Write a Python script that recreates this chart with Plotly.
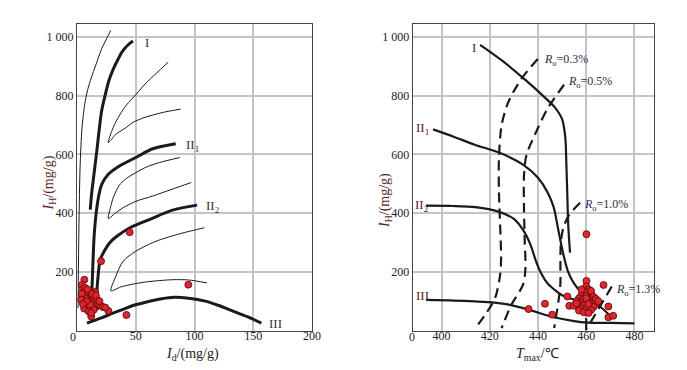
import plotly.graph_objects as go

W, H = 687, 370

# ---------------- Left chart data: Id vs IH ----------------
thin1_x = [0.8, 1.4, 2.5, 4.2, 6.5, 9.0, 12.0, 16.0, 21.0, 28.7]
thin1_y = [76, 300, 550, 690, 770, 820, 860, 905, 960, 1022]

curveI_x = [11.2, 12.5, 14.0, 16.8, 19.0, 21.0, 23.8, 27.0, 30.8, 35.0, 39.2, 44.0, 47.6]
curveI_y = [412, 470, 520, 612, 690, 750, 800, 850, 890, 925, 954, 975, 986]

curveII1_x = [12.6, 13.5, 14.6, 16.8, 19.0, 21.0, 26.6, 36.4, 50.4, 64.4, 84.0]
curveII1_y = [133, 230, 327, 418, 470, 498, 532, 561, 590, 619, 636]

curveII2_x = [16.8, 18.0, 19.6, 23.8, 28.0, 33.6, 45.0, 61.6, 81.2, 102.2]
curveII2_y = [133, 190, 240, 275, 300, 320, 350, 378, 410, 427]

curveIII_x = [8.4, 20, 30, 39.2, 47.6, 60, 72, 82.6, 95, 109.2, 120, 131.7, 145, 156.9]
curveIII_y = [25, 42, 58, 72, 85, 98, 108, 113, 110, 100, 86, 68, 47, 25]

thinA_x = [77.6, 67.2, 58.0, 50.4, 42.0, 36.4, 30.8, 26.6, 33.0, 42.0, 47.6, 57.0, 67.2, 75.6, 88.2]
thinA_y = [914, 875, 840, 805, 768, 735, 692, 640, 668, 692, 709, 725, 737, 745, 754]

thinB_x = [87.4, 70.0, 58.0, 47.6, 42.0, 36.0, 31.0, 28.5, 26.6, 32.0, 39.2, 50.0, 64.4, 80.0, 97.2]
thinB_y = [589, 572, 555, 532, 518, 495, 455, 420, 381, 398, 418, 440, 458, 480, 504]

thinC_x = [108.4, 88.0, 67.2, 50.0, 39.2, 33.0, 28.8, 37.0, 47.6, 60.0, 81.2, 95.0, 110.6]
thinC_y = [350, 330, 304, 270, 236, 185, 135, 148, 158, 166, 173, 172, 162]

left_pts_x = [44.8, 20.4, 94.7, 42, 12, 26.6, 15.4, 6.2,
              4, 5, 6, 7, 8, 5, 6, 7, 9, 10, 11, 8, 9, 10, 12, 13, 14, 12, 11, 7,
              15, 16, 17, 18, 20, 22, 14, 9, 4, 3.5, 6, 10, 13, 16, 19, 11, 8, 5, 24, 12]
left_pts_y = [335, 236, 156, 53, 48, 67, 131, 173,
              155, 140, 130, 145, 120, 115, 100, 90, 105, 125, 110, 80, 70, 95, 100, 85, 115, 75, 135, 110,
              95, 80, 105, 90, 85, 80, 70, 140, 125, 105, 75, 65, 125, 120, 100, 88, 100, 90, 78, 60]

# ---------------- Right chart data: Tmax vs IH ----------------
rI_x = [416, 425, 435, 442, 447, 450, 451.3, 451.8, 452.2, 452.6, 453.3]
rI_y = [973, 920, 852, 800, 760, 720, 660, 560, 450, 350, 265]

rII1_x = [396.5, 405, 414, 423.6, 433.8, 440, 444, 446.5, 448.5, 450.5, 452.5, 455, 458, 462, 466, 470]
rII1_y = [685, 660, 632, 607, 565, 520, 470, 420, 340, 260, 200, 160, 130, 105, 80, 50]

rII2_x = [393.5, 405, 414, 423.6, 430, 434, 437, 439, 441.3, 444, 447, 450, 455, 458]
rII2_y = [425, 424, 420, 405, 380, 340, 290, 240, 195, 160, 138, 120, 105, 98]

rIII_x = [393.6, 405, 414, 422, 428, 436, 446.7, 455, 460.4, 470, 480]
rIII_y = [104, 102, 99, 95, 88, 71, 45, 32, 27, 26, 24]

ro03_x = [439.9, 433.1, 427.7, 424.9, 423.8, 423.8, 424.3, 424.7, 424.3, 422.2, 418.1, 414.0]
ro03_y = [925, 857, 778, 699, 586, 473, 359, 246, 190, 110, 54, 8]

ro05_x = [450.8, 444.0, 438.6, 435.2, 434.2, 434.2, 434.5, 434.8, 433.8, 429.0, 424.9]
ro05_y = [837, 756, 665, 597, 529, 416, 303, 212, 156, 88, 8]

ro10_x = [457.5, 453.0, 450.5, 449.5, 449.3, 449.3, 448.5, 446.7]
ro10_y = [435, 395, 350, 300, 220, 160, 100, 8]

ro13_x = [470.6, 460.4]
ro13_y = [150, 8]

stem_x = [460, 460]
stem_y = [0, 42]

right_pts_x = [460.1, 460.1, 467.2, 452.2, 442.9, 436.1, 445.9, 453, 454.9, 469.2, 469.2, 471.2,
               460, 461, 459, 460, 462, 458, 460, 463, 457, 459, 461, 463, 456, 458, 460, 462, 464,
               457, 459, 461, 463, 458, 460, 462, 457, 459, 461, 464, 465, 456, 458, 462, 460, 461]
right_pts_y = [328, 169, 155, 116, 91, 73, 54, 84, 84, 82, 45, 50,
               150, 140, 135, 128, 125, 120, 118, 115, 110, 108, 105, 100, 100, 95, 95, 92, 90,
               88, 85, 82, 80, 75, 72, 70, 68, 62, 60, 108, 100, 92, 140, 135, 110, 90]

ytick_vals = [200, 400, 600, 800, 1000]
ytick_text = ["200", "400", "600", "800", "1 000"]
left_xticks = [50, 100, 150, 200]
right_xticks = [400, 420, 440, 460, 480]

# ---------------- Figure ----------------
fig = go.Figure()
BLACK = "#1a1a1a"

def line(x, y, w, axis, dash="solid"):
    fig.add_trace(go.Scatter(x=x, y=y, mode="lines",
                             line=dict(color=BLACK, width=w, dash=dash, shape="spline", smoothing=0.8),
                             xaxis=axis[0], yaxis=axis[1], hoverinfo="skip", showlegend=False))

L = ("x", "y")
R = ("x2", "y2")
line(thin1_x, thin1_y, 1.0, L)
line(thinA_x, thinA_y, 1.0, L)
line(thinB_x, thinB_y, 1.0, L)
line(thinC_x, thinC_y, 1.0, L)
line(curveI_x, curveI_y, 3.0, L)
line(curveII1_x, curveII1_y, 3.0, L)
line(curveII2_x, curveII2_y, 3.0, L)
line(curveIII_x, curveIII_y, 3.0, L)

line(rI_x, rI_y, 2.2, R)
line(rII1_x, rII1_y, 2.2, R)
line(rII2_x, rII2_y, 2.2, R)
line(rIII_x, rIII_y, 2.2, R)
for xs, ys in [(ro03_x, ro03_y), (ro05_x, ro05_y), (ro10_x, ro10_y), (ro13_x, ro13_y)]:
    line(xs, ys, 2.2, R, dash="10px,6px")
line(stem_x, stem_y, 2.2, R)

marker = dict(size=7, color="#e3242b", line=dict(color="#4a0a0a", width=0.8))
fig.add_trace(go.Scatter(x=left_pts_x, y=left_pts_y, mode="markers", marker=marker,
                         xaxis="x", yaxis="y", showlegend=False))
fig.add_trace(go.Scatter(x=right_pts_x, y=right_pts_y, mode="markers", marker=marker,
                         xaxis="x2", yaxis="y2", showlegend=False))

FONT = "Liberation Serif, Times New Roman, serif"
tickfont = dict(family=FONT, size=12, color="#222")
grid = dict(showgrid=True, gridcolor="#c4c4c4", gridwidth=1.5, showline=True, linecolor="#444",
            linewidth=1.2, mirror=True, zeroline=False, ticks="", tickfont=tickfont)

yd = [1 - 322.5 / H, 1 - 15.7 / H]
fig.update_layout(
    width=W, height=H, margin=dict(l=0, r=0, t=0, b=0),
    paper_bgcolor="white", plot_bgcolor="white",
    font=dict(family=FONT),
    xaxis=dict(domain=[70 / W, 308 / W], range=[0, 200], tickvals=left_xticks, anchor="y",
               ticklabelstandoff=-6, **grid),
    yaxis=dict(domain=yd, range=[0, 1045], tickvals=ytick_vals, ticktext=ytick_text, anchor="x", **grid),
    xaxis2=dict(domain=[410 / W, 655 / W], range=[388, 488.3], tickvals=right_xticks, anchor="y2",
                ticklabelstandoff=-6, **grid),
    yaxis2=dict(domain=yd, range=[0, 1045], tickvals=ytick_vals, ticktext=ytick_text, anchor="x2", **grid),
)

def ann(text, x, y, ref, size=12, color="#222", xanchor="left", angle=0):
    fig.add_annotation(text=text, x=x, y=y, xref=ref[0], yref=ref[1], showarrow=False,
                       font=dict(family=FONT, size=size, color=color), xanchor=xanchor,
                       yanchor="middle", textangle=angle)

P = ("paper", "paper")
# axis titles
ann("<i>I</i><sub>d</sub>/(mg/g)", 187 / W, 1 - 346 / H, P, size=14, xanchor="center")
ann("<i>T</i><sub>max</sub>/℃", 537 / W, 1 - 346 / H, P, size=14, xanchor="center")
ann("<i>I</i><sub>H</sub>/(mg/g)", 42 / W, 1 - 175 / H, P, size=14, color="#5a2424", xanchor="center", angle=-90)
ann("<i>I</i><sub>H</sub>/(mg/g)", 382 / W, 1 - 192 / H, P, size=14, color="#5a2424", xanchor="center", angle=-90)
# origin zero labels
ann("0", 66 / W, 1 - 329 / H, P, size=12, xanchor="center")
ann("0", 409 / W, 1 - 329 / H, P, size=12, xanchor="center")

# curve labels left
LC = "#333333"
ann("I", 56, 982, ("x", "y"), size=13, color=LC)
ann("II<sub>1</sub>", 91, 629, ("x", "y"), size=13, color=LC)
ann("II<sub>2</sub>", 108, 424, ("x", "y"), size=13, color=LC)
ann("III", 162, 25, ("x", "y"), size=13, color=LC)

# curve labels right
RC = "#5a2424"
ann("I", 415, 965, ("x2", "y2"), size=13, color=RC, xanchor="right")
ann("II<sub>1</sub>", 395.5, 688, ("x2", "y2"), size=13, color=RC, xanchor="right")
ann("II<sub>2</sub>", 395.5, 427, ("x2", "y2"), size=13, color=RC, xanchor="right")
ann("III", 395.5, 120, ("x2", "y2"), size=13, color=RC, xanchor="right")
BC = "#1f2f4f"
ann("<i>R</i><sub>o</sub>=0.3%", 441.5, 922, ("x2", "y2"), size=12, color=BC)
ann("<i>R</i><sub>o</sub>=0.5%", 451.8, 846, ("x2", "y2"), size=12, color=BC)
ann("<i>R</i><sub>o</sub>=1.0%", 458.2, 427, ("x2", "y2"), size=12, color=BC)
ann("<i>R</i><sub>o</sub>=1.3%", 471.5, 139, ("x2", "y2"), size=12, color=BC)

fig.write_html("out.html")
